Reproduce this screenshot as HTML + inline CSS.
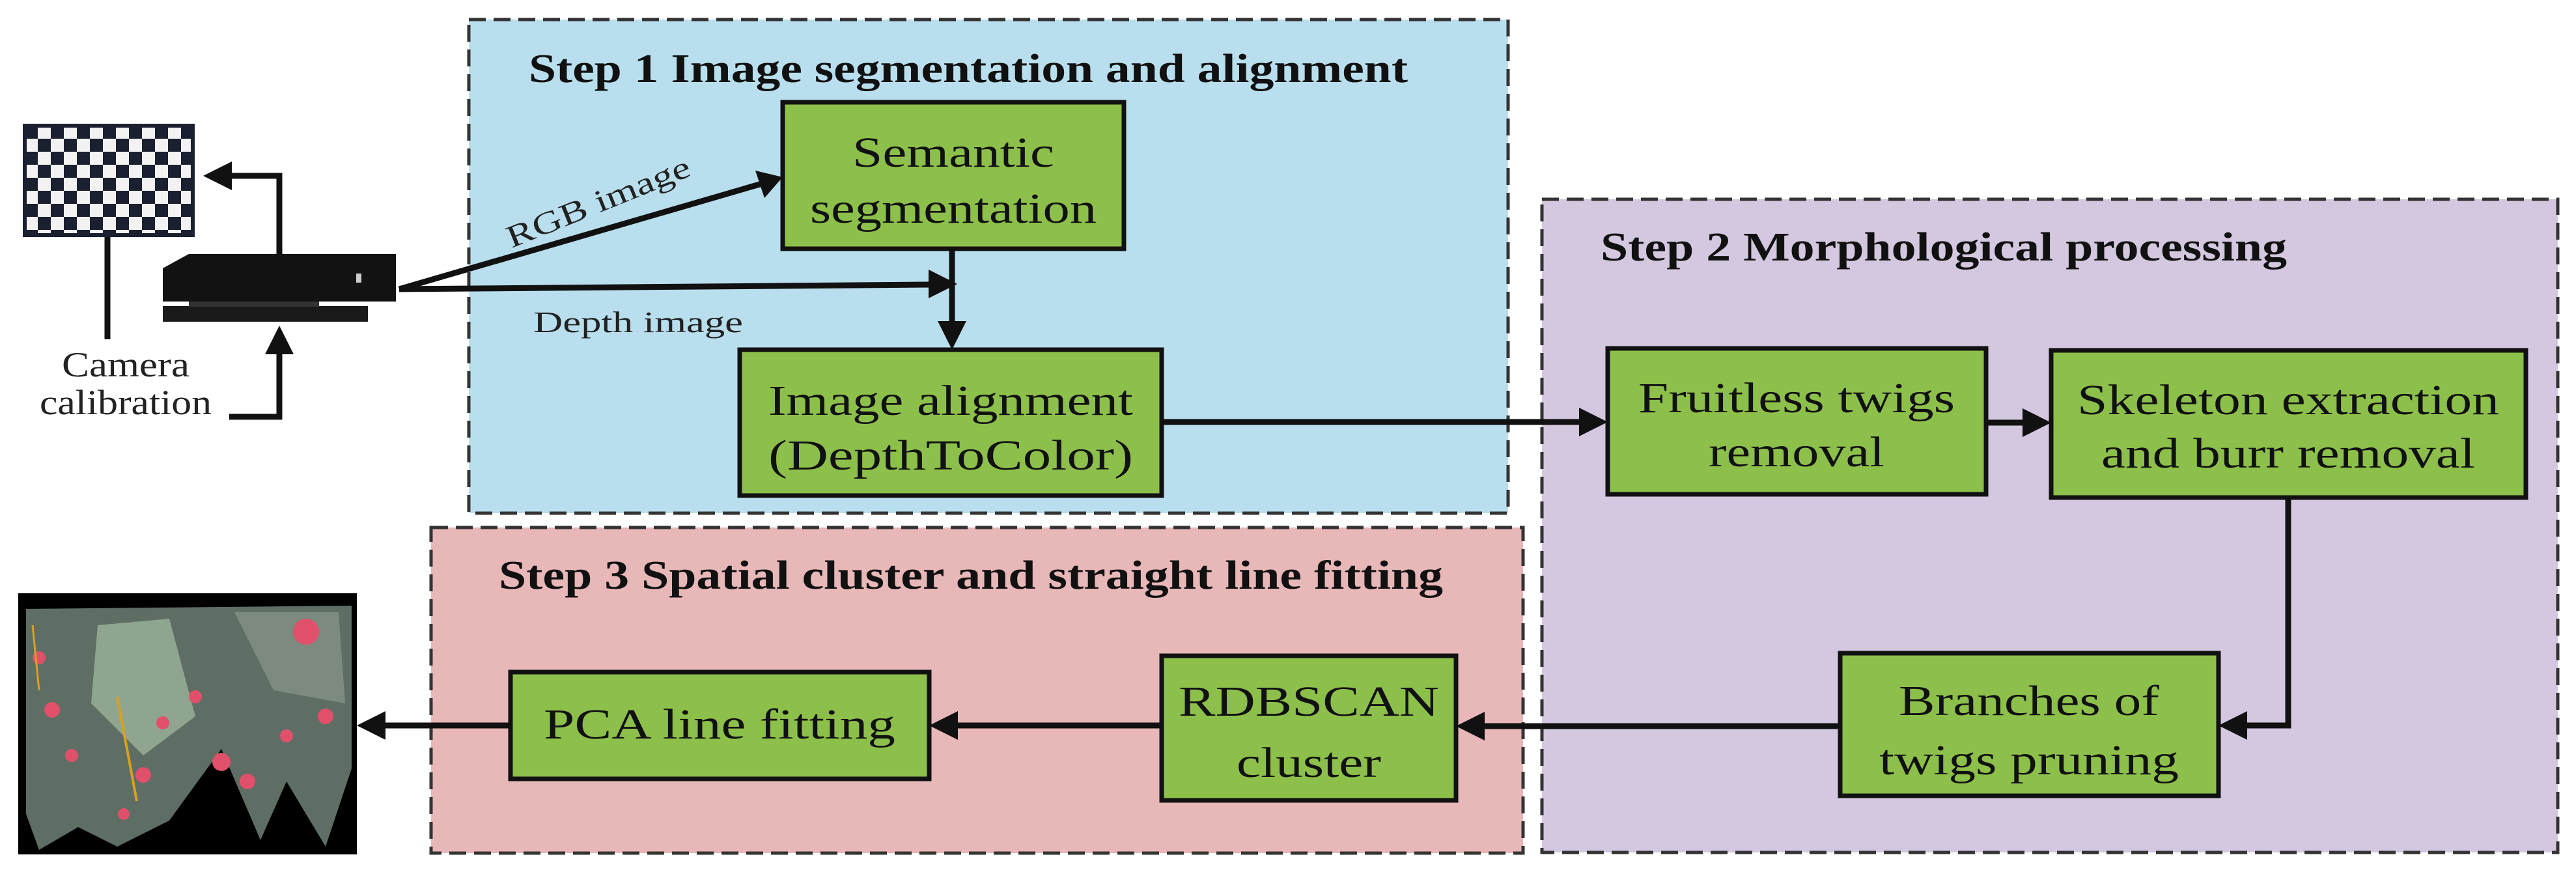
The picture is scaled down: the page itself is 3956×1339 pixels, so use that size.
<!DOCTYPE html>
<html><head><meta charset="utf-8"><style>html,body{margin:0;padding:0;background:#fff}svg{display:block}text{font-family:"Liberation Serif","DejaVu Serif",serif}</style></head>
<body>
<svg width="3956" height="1339" viewBox="0 0 3956 1339" xmlns="http://www.w3.org/2000/svg">
<defs>
<pattern id="chk" width="40" height="40" patternUnits="userSpaceOnUse" x="38" y="193">
<rect width="40" height="40" fill="#f2f2f2"/><rect width="20" height="20" fill="#1b2030"/><rect x="20" y="20" width="20" height="20" fill="#1b2030"/>
</pattern>
</defs>
<rect width="3956" height="1339" fill="#fff"/>
<rect x="720" y="30" width="1596" height="758" fill="#b9dfee" stroke="#333" stroke-width="5" stroke-dasharray="26 12"/>
<rect x="2368" y="306" width="1560" height="1003" fill="#d3c8df" stroke="#333" stroke-width="5" stroke-dasharray="26 12"/>
<rect x="662" y="810" width="1677" height="500" fill="#e8b7b8" stroke="#333" stroke-width="5" stroke-dasharray="26 12"/>
<g font-weight="bold" font-size="62" fill="#111">
<text x="812" y="126" textLength="1350" lengthAdjust="spacingAndGlyphs">Step 1 Image segmentation and alignment</text>
<text x="2458" y="400" textLength="1054" lengthAdjust="spacingAndGlyphs">Step 2 Morphological processing</text>
<text x="766" y="904" textLength="1450" lengthAdjust="spacingAndGlyphs">Step 3 Spatial cluster and straight line fitting</text>
</g>
<g fill="#8dc04b" stroke="#111" stroke-width="7">
<rect x="1202" y="157" width="524" height="225"/>
<rect x="1136" y="537" width="648" height="224"/>
<rect x="2469" y="535" width="581" height="224"/>
<rect x="3150" y="538" width="729" height="226"/>
<rect x="2826" y="1003" width="581" height="219"/>
<rect x="784" y="1032" width="643" height="164"/>
<rect x="1784" y="1007" width="452" height="222"/>
</g>
<g font-size="66" fill="#111" text-anchor="middle">
<text x="1464" y="256" textLength="310" lengthAdjust="spacingAndGlyphs">Semantic</text>
<text x="1464" y="342" textLength="440" lengthAdjust="spacingAndGlyphs">segmentation</text>
<text x="1460" y="637" textLength="560" lengthAdjust="spacingAndGlyphs">Image alignment</text>
<text x="1460" y="721" textLength="560" lengthAdjust="spacingAndGlyphs">(DepthToColor)</text>
<text x="2759" y="633" textLength="486" lengthAdjust="spacingAndGlyphs">Fruitless twigs</text>
<text x="2759" y="716" textLength="270" lengthAdjust="spacingAndGlyphs">removal</text>
<text x="3514" y="636" textLength="648" lengthAdjust="spacingAndGlyphs">Skeleton extraction</text>
<text x="3514" y="718" textLength="574" lengthAdjust="spacingAndGlyphs">and burr removal</text>
<text x="3116" y="1098" textLength="400" lengthAdjust="spacingAndGlyphs">Branches of</text>
<text x="3116" y="1189" textLength="460" lengthAdjust="spacingAndGlyphs">twigs pruning</text>
<text x="1105" y="1134" textLength="540" lengthAdjust="spacingAndGlyphs">PCA line fitting</text>
<text x="2010" y="1099" textLength="400" lengthAdjust="spacingAndGlyphs">RDBSCAN</text>
<text x="2010" y="1193" textLength="222" lengthAdjust="spacingAndGlyphs">cluster</text>
</g>
<g stroke="#111" stroke-width="9" fill="none">
<line x1="1784" y1="648" x2="2430" y2="648"/>
<line x1="3050" y1="649" x2="3112" y2="649"/>
<polyline points="3514,764 3514,1114 3447,1114"/>
<line x1="2826" y1="1115" x2="2276" y2="1115"/>
<line x1="1784" y1="1114" x2="1467" y2="1114"/>
<line x1="784" y1="1114" x2="588" y2="1114"/>
<line x1="1462" y1="382" x2="1462" y2="497"/>
<line x1="613" y1="444" x2="1170" y2="282"/>
<line x1="613" y1="444" x2="1430" y2="437"/>
<polyline points="429,390 429,270 350,270"/>
<line x1="165" y1="361" x2="165" y2="521"/>
<polyline points="352,640 429,640 429,540"/>
</g>
<g fill="#111">
<polygon points="2469,648 2425,626 2425,670"/>
<polygon points="3150,649 3106,627 3106,671"/>
<polygon points="3407,1114 3451,1092 3451,1136"/>
<polygon points="2236,1115 2280,1093 2280,1137"/>
<polygon points="1427,1114 1471,1092 1471,1136"/>
<polygon points="548,1114 592,1092 592,1136"/>
<polygon points="1462,537 1440,493 1484,493"/>
<polygon points="1202,272 1160,262 1174,304"/>
<polygon points="1470,436 1426,414 1426,458"/>
<polygon points="312,270 356,248 356,292"/>
<polygon points="429,500 407,544 451,544"/>
</g>
<text x="919" y="326" font-size="48" fill="#222" text-anchor="middle" transform="rotate(-22 919 311)" textLength="300" lengthAdjust="spacingAndGlyphs">RGB image</text>
<text x="819" y="510" font-size="46" fill="#222" textLength="322" lengthAdjust="spacingAndGlyphs">Depth image</text>
<text x="193" y="578" font-size="54" fill="#222" text-anchor="middle" textLength="196" lengthAdjust="spacingAndGlyphs">Camera</text>
<text x="193" y="636" font-size="54" fill="#222" text-anchor="middle" textLength="264" lengthAdjust="spacingAndGlyphs">calibration</text>
<rect x="38" y="193" width="258" height="168" fill="url(#chk)" stroke="#1b2030" stroke-width="6"/>
<polygon points="250,412 290,390 608,390 608,463 250,463" fill="#121212"/>
<rect x="250" y="470" width="315" height="24" fill="#1a1a1a"/>
<rect x="290" y="463" width="200" height="8" fill="#333"/>
<rect x="547" y="420" width="8" height="14" fill="#ccc"/>
<rect x="28" y="911" width="520" height="401" fill="#000"/>
<path d="M40,935 L540,930 L540,1180 L500,1300 L440,1200 L400,1290 L340,1150 L260,1260 L180,1300 L120,1270 L60,1305 L40,1250 Z" fill="#5e6e64"/>
<path d="M150,960 L260,950 L300,1100 L220,1160 L140,1080 Z" fill="#8fa58f"/>
<path d="M360,940 L520,940 L530,1080 L420,1060 Z" fill="#7c8a80"/>
<g fill="#e0506a">
<circle cx="60" cy="1010" r="10"/><circle cx="80" cy="1090" r="12"/><circle cx="110" cy="1160" r="10"/><circle cx="220" cy="1190" r="12"/><circle cx="250" cy="1110" r="10"/><circle cx="340" cy="1170" r="14"/><circle cx="380" cy="1200" r="12"/><circle cx="440" cy="1130" r="10"/><circle cx="500" cy="1100" r="12"/><circle cx="470" cy="970" r="20"/><circle cx="300" cy="1070" r="10"/><circle cx="190" cy="1250" r="9"/>
</g>
<line x1="180" y1="1070" x2="210" y2="1230" stroke="#d9a020" stroke-width="4"/>
<line x1="50" y1="960" x2="60" y2="1060" stroke="#d9a020" stroke-width="3"/>
</svg>
</body></html>
